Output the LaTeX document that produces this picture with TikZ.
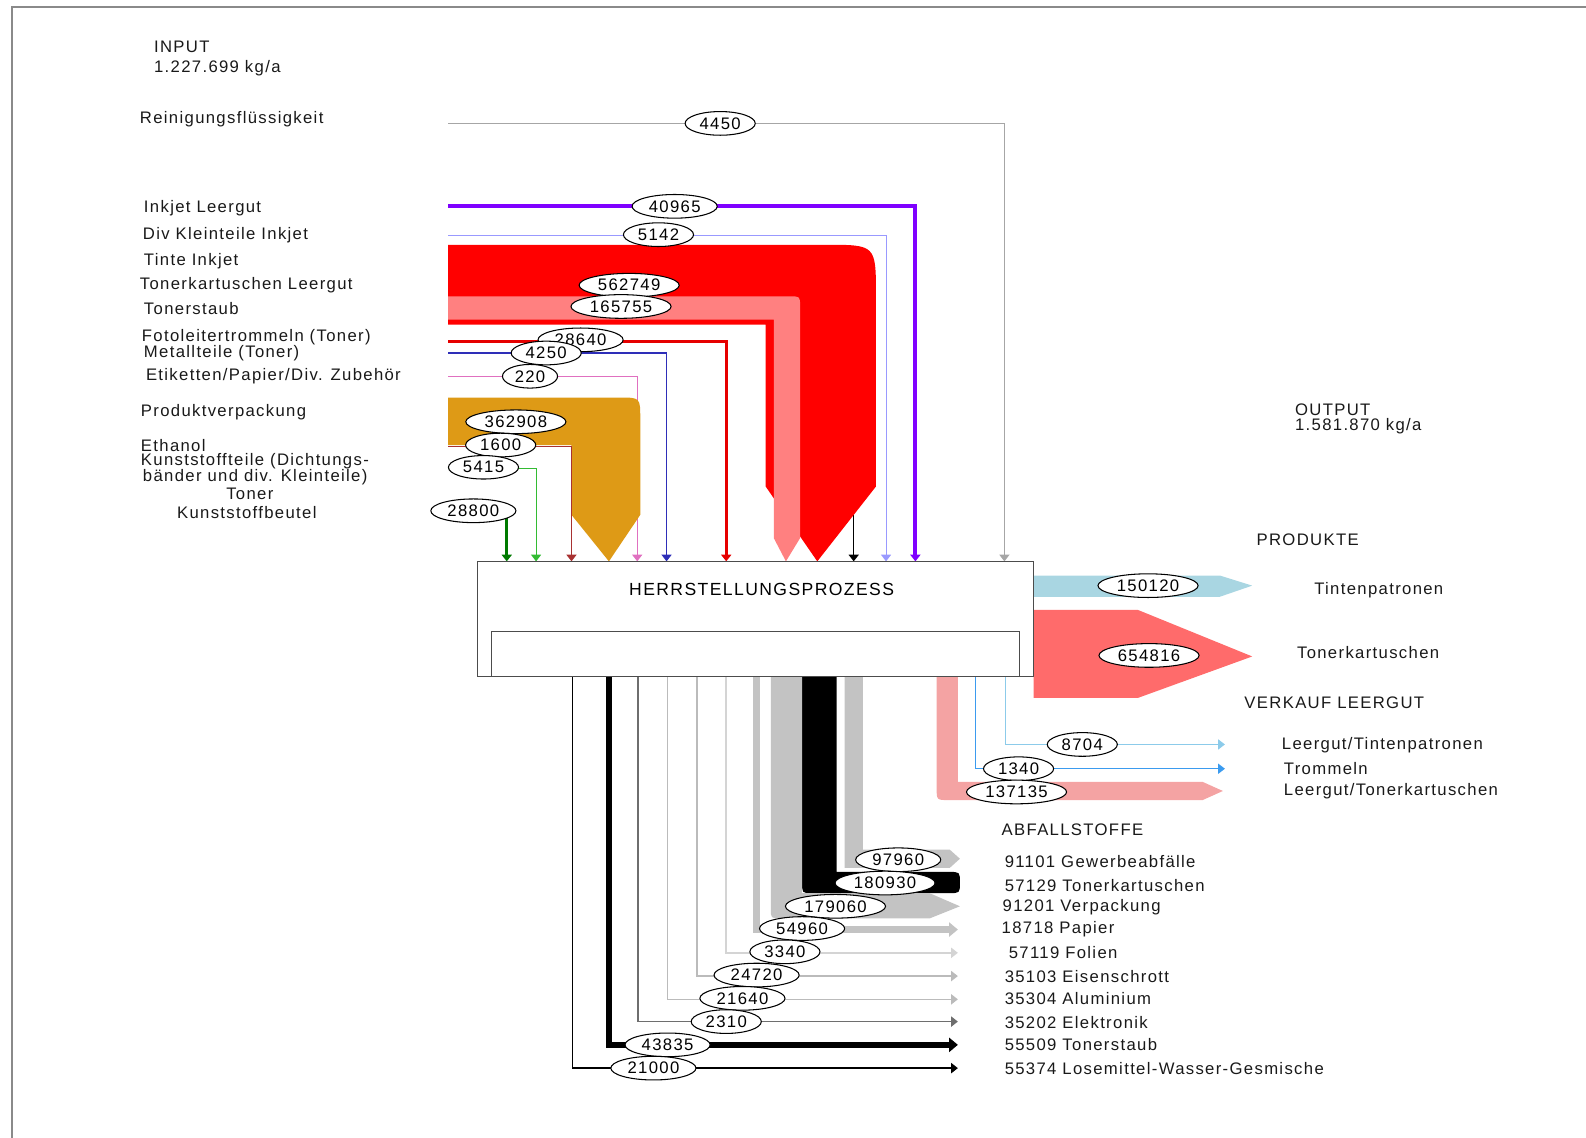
\documentclass[tikz,border=0pt]{standalone}
\usepackage{fontspec}
\setmainfont{Liberation Sans}[LetterSpace=8]
\usepackage{tikz}
\usetikzlibrary{arrows.meta,shapes.geometric,positioning}

\definecolor{flowgray}{HTML}{A6A6A6}
\definecolor{inkviolet}{HTML}{7F00FF}
\definecolor{inkblue}{HTML}{9999FF}
\definecolor{tonerred}{HTML}{FF0000}
\definecolor{tonerpink}{HTML}{FF8080}
\definecolor{drumred}{HTML}{E60000}
\definecolor{metalblue}{HTML}{2E2EB8}
\definecolor{labelpink}{HTML}{E070C0}
\definecolor{packorange}{HTML}{DE9A16}
\definecolor{ethbrown}{HTML}{A83232}
\definecolor{partgreen}{HTML}{33BB33}
\definecolor{baggreen}{HTML}{007A00}
\definecolor{prodcyan}{HTML}{A9D6E2}
\definecolor{prodred}{HTML}{FF6B6B}
\definecolor{emptypink}{HTML}{F4A3A3}
\definecolor{drumblue}{HTML}{3B9BEF}
\definecolor{emptycyan}{HTML}{8CCBEA}
\definecolor{wastegray}{HTML}{C3C3C3}
\definecolor{wastelight}{HTML}{D4D4D4}
\definecolor{wastemid}{HTML}{BBBBBB}
\definecolor{wastedark}{HTML}{6E6E6E}
\definecolor{framegray}{HTML}{8A8A8A}

\begin{document}
\begin{tikzpicture}
[x=0.02023cm, y=-0.02023cm, font=\fontsize{9.5}{11}\selectfont,
% STYLES
% The label style is used for the texts beside the flows
label/.style={anchor=west, inner sep=0pt, text=black!90},
% The num style is used for the amounts in kg/a
num/.style={ellipse, draw, fill=white, line width=0.6pt, inner xsep=2.4pt, inner ysep=1.4pt},
% The flow style is used for the thin connectors
flow/.style={line width=0.6pt, -{Triangle[width=5.7pt,length=3.8pt]}},
bigflow/.style={-{Triangle[width=8pt,length=5pt]}},
procbox/.style={rectangle, draw=black!70, line width=0.8pt, fill=white, inner sep=0pt, outer sep=0pt}]

\useasboundingbox (0,0) rectangle (1568,1125);
\draw [framegray, line width=0.9pt] (12,1125) -- (12,7) -- (1568,7);

% Input texts
\node [label] (input) at (152,46) {INPUT};
\node [label] (inputsum) at (152,67) {1.227.699 kg/a};
\node [label] (lreinigung) at (138,118) {Reinigungsflüssigkeit};
\node [label] (linkjet) at (142,206) {Inkjet Leergut};
\node [label] (ldivklein) at (141,233) {Div Kleinteile Inkjet};
\node [label] (ltinte) at (142,258) {Tinte Inkjet};
\node [label] (ltonerleer) at (138,282) {Tonerkartuschen Leergut};
\node [label] (ltonerstaub) at (142,305) {Tonerstaub};
\node [label] (lfoto) at (140,333) {Fotoleitertrommeln (Toner)};
\node [label] (lmetall) at (142,349) {Metallteile (Toner)};
\node [label] (letiketten) at (144,372) {Etiketten/Papier/Div. Zubehör};
\node [label] (lverpackung) at (139,408) {Produktverpackung};
\node [label] (lethanol) at (139,440) {Ethanol};
\node [label] (lkunst) at (139,456) {Kunststoffteile (Dichtungs-};
\node [label] (lkunsttwo) at (141,472) {bänder und div. Kleinteile)};
\node [label, anchor=center] (ltoner) at (247,488) {Toner};
\node [label, anchor=center] (lbeutel) at (244,507) {Kunststoffbeutel};

% Output texts
\node [label] (output) at (1280,405) {OUTPUT};
\node [label] (outputsum) at (1280,421) {1.581.870 kg/a};
\node [label] (lprodukte) at (1242,534) {PRODUKTE};
\node [label] (ltinten) at (1299,583) {Tintenpatronen};
\node [label] (ltonerkart) at (1282,645) {Tonerkartuschen};
\node [label] (lverkauf) at (1230,695) {VERKAUF LEERGUT};
\node [label] (lleertinte) at (1267,737) {Leergut/Tintenpatronen};
\node [label] (ltrommeln) at (1269,760) {Trommeln};
\node [label] (lleertoner) at (1269,782) {Leergut/Tonerkartuschen};
\node [label] (labfall) at (990,820) {ABFALLSTOFFE};
\node [label] (lgewerbe) at (993,852) {91101 Gewerbeabfälle};
\node [label] (ltonerabf) at (993,875) {57129 Tonerkartuschen};
\node [label] (lverpabf) at (991,897) {91201 Verpackung};
\node [label] (lpapier) at (990,919) {18718 Papier};
\node [label] (lfolien) at (997,942) {57119 Folien};
\node [label] (leisen) at (993,965) {35103 Eisenschrott};
\node [label] (lalu) at (993,987) {35304 Aluminium};
\node [label] (lelektronik) at (993,1011) {35202 Elektronik};
\node [label] (lstaubabf) at (993,1033) {55509 Tonerstaub};
\node [label] (lloese) at (993,1056) {55374 Losemittel-Wasser-Gesmische};

% Draw flows into the process
\coordinate (stoner) at (844,300);  \coordinate (etoner) at (844,555);
\draw [flow, black, line width=0.8pt] (stoner) -- (etoner);

\fill [tonerred] (443,242) -- (816,242) .. controls (866,242) .. (866,292)
  -- (866,481) -- (808,555) -- (757,481) -- (757,321) -- (443,321) -- cycle;
\fill [tonerpink] (443,293) -- (781,293) .. controls (791,293) .. (791,303)
  -- (791,532) -- (777,555) -- (765,532) -- (765,316) -- (443,316) -- cycle;

\coordinate (s4450) at (443,122);   \coordinate (e4450) at (993,555);
\coordinate (s40965) at (443,204);  \coordinate (e40965) at (905,555);
\coordinate (s5142) at (443,233);   \coordinate (e5142) at (876,555);
\coordinate (s28640) at (443,338);  \coordinate (e28640) at (718,555);
\coordinate (s4250) at (443,349);   \coordinate (e4250) at (659,555);
\coordinate (s220) at (443,372);    \coordinate (e220) at (630,555);
\coordinate (s1600) at (443,441);   \coordinate (e1600) at (565,555);
\coordinate (s5415) at (443,463);   \coordinate (e5415) at (530,555);
\coordinate (s28800) at (443,505);  \coordinate (e28800) at (501,555);

\draw [flow, flowgray] (s4450) -| (e4450);
\draw [flow, inkviolet, line width=2.3pt] (s40965) -| (e40965);
\draw [flow, inkblue] (s5142) -| (e5142);
\draw [flow, drumred, line width=1.7pt] (s28640) -| (e28640);
\draw [flow, metalblue] (s4250) -| (e4250);
\draw [flow, labelpink] (s220) -| (e220);

\fill [packorange] (443,393) -- (612,393) .. controls (633,393) .. (633,414)
  -- (633,509) -- (602,555) -- (565,509) -- (565,440) -- (443,440) -- cycle;

\draw [flow, ethbrown] (s1600) -| (e1600);
\draw [flow, partgreen] (s5415) -| (e5415);
\draw [flow, baggreen, line width=1.9pt] (s28800) -| (e28800);

% Draw products and sold empties
\fill [prodcyan] (1022,569) -- (1206,569) -- (1238,579) -- (1206,590) -- (1022,590) -- cycle;
\fill [prodred] (1022,603) -- (1125,603) -- (1238,649) -- (1125,690) -- (1022,690) -- cycle;
\fill [emptypink] (926,669) -- (947,669) -- (947,773) -- (1189,773) -- (1209,782)
  -- (1189,791) -- (938,791) .. controls (926,791) .. (926,779) -- cycle;

\coordinate (o1340) at (964,669);  \coordinate (t1340) at (1211,760);
\coordinate (o8704) at (994,669);  \coordinate (t8704) at (1211,736);
\draw [flow, drumblue] (o1340) |- (t1340);
\draw [flow, emptycyan] (o8704) |- (t8704);

% Draw waste flows
\fill [wastegray] (835,669) -- (853,669) -- (853,840) -- (939,840) -- (949,849)
  -- (939,858) -- (835,858) -- cycle;
\fill [black] (793,669) -- (827,669) -- (827,862) -- (938,862) .. controls (949,862) .. (949,872.5)
  .. controls (949,883) .. (938,883) -- (803,883) .. controls (793,883) .. (793,873) -- cycle;
\fill [wastegray] (762,669) -- (793,669) -- (793,883) -- (919,883) -- (949,896) -- (919,908)
  -- (772,908) .. controls (762,908) .. (762,898) -- cycle;

\coordinate (w54960) at (748,669);  \coordinate (x54960) at (947,919);
\coordinate (w3340) at (718,669);   \coordinate (x3340) at (947,942);
\coordinate (w24720) at (689,669);  \coordinate (x24720) at (947,965);
\coordinate (w21640) at (660,669);  \coordinate (x21640) at (947,988);
\coordinate (w2310) at (631,669);   \coordinate (x2310) at (947,1010);
\coordinate (w43835) at (602,669);  \coordinate (x43835) at (947,1033);
\coordinate (w21000) at (566,669);  \coordinate (x21000) at (947,1056);

\draw [bigflow, wastegray, line width=4pt] (w54960) |- (x54960);
\draw [flow, wastelight, line width=0.9pt] (w3340) |- (x3340);
\draw [flow, wastemid, line width=0.9pt] (w24720) |- (x24720);
\draw [flow, wastemid, line width=0.9pt] (w21640) |- (x21640);
\draw [flow, wastedark, line width=0.9pt] (w2310) |- (x2310);
\draw [bigflow, black, line width=3.4pt] (w43835) |- (x43835);
\draw [flow, black, line width=1pt] (w21000) |- (x21000);

% Draw the process
\node [procbox, minimum width=11.13cm, minimum height=2.31cm] (proc) at (747,612) {};
\node [procbox, minimum width=10.56cm, minimum height=0.91cm, anchor=south] (procin) at (proc.south) {};
\node [inner sep=0pt, font=\fontsize{10}{12}\selectfont] (proclabel) at (753,583) {HERRSTELLUNGSPROZESS};

% Amounts
\node [num] (n4450) at (712,122) {4450};
\node [num] (n40965) at (667,204) {40965};
\node [num] (n5142) at (651,232) {5142};
\node [num] (n562749) at (622,282) {562749};
\node [num] (n165755) at (614,303) {165755};
\node [num] (n28640) at (574,336) {28640};
\node [num] (n4250) at (540,349) {4250};
\node [num] (n220) at (524,372) {220};
\node [num] (n362908) at (510,417) {362908};
\node [num] (n1600) at (495,440) {1600};
\node [num] (n5415) at (478,462) {5415};
\node [num] (n28800) at (468,505) {28800};

\node [num] (n150120) at (1135,579) {150120};
\node [num] (n654816) at (1136,648) {654816};
\node [num] (n8704) at (1070,736) {8704};
\node [num] (n1340) at (1007,760) {1340};
\node [num] (n137135) at (1005,783) {137135};

\node [num] (n97960) at (888,850) {97960};
\node [num] (n180930) at (875,873) {180930};
\node [num] (n179060) at (826,896) {179060};
\node [num] (n54960) at (793,918) {54960};
\node [num] (n3340) at (776,941) {3340};
\node [num] (n24720) at (748,964) {24720};
\node [num] (n21640) at (734,987) {21640};
\node [num] (n2310) at (718,1010) {2310};
\node [num] (n43835) at (660,1033) {43835};
\node [num] (n21000) at (646,1056) {21000};

\end{tikzpicture}
\end{document}
